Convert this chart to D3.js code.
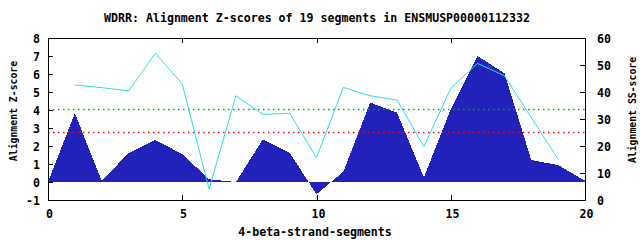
<!DOCTYPE html>
<html>
<head>
<meta charset="utf-8">
<script src="https://cdn.jsdelivr.net/npm/d3@7"></script>
<style>
  body { margin: 0; background: #fff; }
  text { font-family: "DejaVu Sans Mono", monospace; font-weight: bold; font-size: 11.6px; fill: #000; }
  text.vlabel { font-size: 9.8px; }
</style>
</head>
<body>
<svg id="chart" width="640" height="240"></svg>
<script>
// segment index
var segments = d3.range(0, 21);
// Z-scores per segment (filled area, left axis)
var zScores = [0, 3.82, 0.07, 1.6, 2.33, 1.55, 0.15, 0, 2.37, 1.63, -0.68,
               0.57, 4.41, 3.85, 0.26, 4.04, 7.0, 6.04, 1.22, 0.94, 0.07];
// SS-scores per segment (cyan line, right axis), from segment 1 to 19
var ssSegments = d3.range(1, 20);
var ssScores = [42.6, 41.6, 40.4, 54.3, 43.0, 4.0, 38.6, 31.7, 32.1, 15.7,
                41.7, 38.6, 37.0, 19.8, 41.4, 50.6, 46.0, 30.5, 15.1];
// threshold lines on Z axis
var thresholds = [4.04, 2.76];
var thresholdColors = ["#00aa00", "#ff0000"];

var xTicks = [0, 5, 10, 15, 20];
var yTicks = d3.range(-1, 9);
var y2Ticks = d3.range(0, 70, 10);

var svg = d3.select("#chart"),
    pLeft = 48, pRight = 585, pTop = 38, pBottom = 200;

var x = d3.scaleLinear().domain([0, 20]).range([pLeft, pRight]);
var y = d3.scaleLinear().domain([-1, 8]).range([pBottom, pTop]);
var y2 = d3.scaleLinear().domain([0, 60]).range([pBottom, pTop]);

// title
svg.append("text")
    .attr("x", 317).attr("y", 22)
    .attr("text-anchor", "middle")
    .text("WDRR: Alignment Z-scores of 19 segments in ENSMUSP00000112332");

// filled Z-score area
var area = d3.area()
    .x(function (d, i) { return x(segments[i]); })
    .y0(y(0))
    .y1(function (d) { return y(d); });
svg.append("path")
    .datum(zScores)
    .attr("d", area)
    .attr("fill", "#2222bb")
    .attr("shape-rendering", "crispEdges");

// threshold dotted lines
thresholds.forEach(function (t, i) {
  svg.append("line")
      .attr("x1", pLeft).attr("x2", pRight)
      .attr("y1", Math.round(y(t)) + 0.5).attr("y2", Math.round(y(t)) + 0.5)
      .attr("stroke", thresholdColors[i])
      .attr("stroke-width", 1.5)
      .attr("stroke-dasharray", "1.5,3.5");
});

// SS-score line
var line = d3.line()
    .x(function (d, i) { return x(ssSegments[i]); })
    .y(function (d) { return y2(d); });
svg.append("path")
    .datum(ssScores)
    .attr("d", line)
    .attr("fill", "none")
    .attr("stroke", "#2cdede")
    .attr("stroke-width", 1);

// axes: ticks pointing inward, labels drawn separately
var tickLen = 5;
var g = svg.append("g").attr("stroke", "#000").attr("stroke-width", 1);

yTicks.forEach(function (t) {
  var yy = Math.round(y(t)) + 0.5;
  g.append("line").attr("x1", pLeft).attr("x2", pLeft + tickLen).attr("y1", yy).attr("y2", yy);
  svg.append("text").attr("x", 40).attr("y", yy + 4).attr("text-anchor", "end").text(t);
});
y2Ticks.forEach(function (t) {
  var yy = Math.round(y2(t)) + 0.5;
  g.append("line").attr("x1", pRight - tickLen).attr("x2", pRight).attr("y1", yy).attr("y2", yy);
  svg.append("text").attr("x", 597).attr("y", yy + 4).text(t);
});
xTicks.forEach(function (t) {
  var xx = Math.round(x(t)) + 0.5;
  g.append("line").attr("x1", xx).attr("x2", xx).attr("y1", pBottom).attr("y2", pBottom - tickLen);
  g.append("line").attr("x1", xx).attr("x2", xx).attr("y1", pTop).attr("y2", pTop + tickLen);
  svg.append("text").attr("x", xx + 1).attr("y", 218).attr("text-anchor", "middle").text(t);
});

// frame
svg.append("rect")
    .attr("x", pLeft + 0.5).attr("y", pTop + 0.5)
    .attr("width", pRight - pLeft).attr("height", pBottom - pTop)
    .attr("fill", "none").attr("stroke", "#000").attr("stroke-width", 1);

// axis labels
svg.append("text")
    .attr("class", "vlabel")
    .attr("text-anchor", "middle")
    .attr("transform", "translate(17,111) rotate(-90)")
    .text("Alignment Z-score");
svg.append("text")
    .attr("class", "vlabel")
    .attr("text-anchor", "middle")
    .attr("transform", "translate(636,110) rotate(-90)")
    .text("Alignment SS-score");
svg.append("text")
    .attr("x", 315).attr("y", 236)
    .attr("text-anchor", "middle")
    .text("4-beta-strand-segments");
</script>
</body>
</html>
